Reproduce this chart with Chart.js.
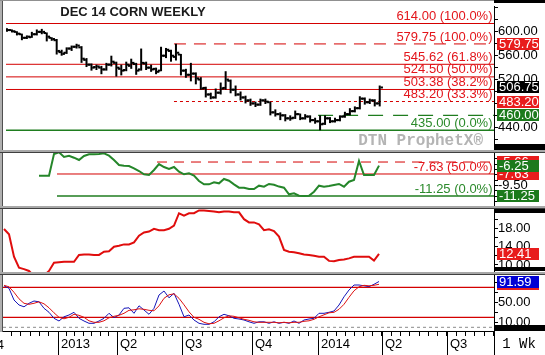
<!DOCTYPE html>
<html>
<head>
<meta charset="utf-8">
<title>DEC 14 CORN WEEKLY</title>
<script src="https://cdn.jsdelivr.net/npm/chart.js@4.4.1/dist/chart.umd.min.js"></script>
<style>
  html, body { margin:0; padding:0; background:#fff; }
  #wrap { position:relative; width:545px; height:355px; overflow:hidden; background:#fff; }
  #wrap canvas { position:absolute; left:0; }
  .d { position:absolute; }
</style>
</head>
<body>
<div id="wrap">
  <canvas id="c1" width="545" height="151" style="top:0px"></canvas>
  <canvas id="c2" width="545" height="54" style="top:153px"></canvas>
  <canvas id="c3" width="545" height="64" style="top:209px"></canvas>
  <canvas id="c4" width="545" height="80" style="top:275px"></canvas>

  <div class="d" style="left:0;top:0;width:2px;height:332px;background:#b0b0b0"></div>
  <div class="d" style="left:2px;top:0;width:1px;height:332px;background:#505050"></div>
  <div class="d" style="left:0;top:0;width:494px;height:1px;background:#909090"></div>
  <div class="d" style="left:494px;top:0;width:51px;height:3px;background:#000"></div>
  <div class="d" style="left:494px;top:144px;width:51px;height:6px;background:#000"></div>
  <div class="d" style="left:494px;top:209px;width:51px;height:4px;background:#000"></div>
  <div class="d" style="left:494px;top:267px;width:51px;height:4px;background:#000"></div>
  <div class="d" style="left:494px;top:325px;width:51px;height:6px;background:#000"></div>
  <div class="d" style="left:0;top:150px;width:545px;height:2px;background:#a8a8a8"></div>
  <div class="d" style="left:0;top:152px;width:545px;height:1px;background:#404040"></div>
  <div class="d" style="left:0;top:206px;width:545px;height:2px;background:#a8a8a8"></div>
  <div class="d" style="left:0;top:208px;width:545px;height:1px;background:#404040"></div>
  <div class="d" style="left:0;top:272px;width:545px;height:2px;background:#a8a8a8"></div>
  <div class="d" style="left:0;top:274px;width:545px;height:1px;background:#404040"></div>
</div>
<script>
// ---------------- DATA ----------------
const TITLE = 'DEC 14 CORN WEEKLY';

// weekly OHLC, Dec 2014 corn (index = week number)
const opens  = [605,603,600,596,590,591,596,600,598,590, 586,566,565,572,575,574,553,545,541,540,
                537,545,548,538,536,543,546,537,547,540, 538,535,560,568,558,562,535,528,530,520,
                506,495,490,498,506,518,503,495,490,485, 480,478,485,482,465,462,460,455,456,462,
                455,458,452,450,446,455,450,452,458,462, 467,472,488,482,485,480];
const highs  = [606,604,601,597,594,600,604,605,599,591, 588,570,574,577,580,576,556,547,545,543,
                548,560,550,545,550,555,548,572,550,545, 540,575,573,570,580,563,538,548,532,524,
                508,498,505,515,534,520,510,500,493,488, 483,488,488,483,470,465,462,460,468,463,
                462,460,456,460,460,457,456,460,466,472, 475,492,490,488,487,510];
const lows   = [600,599,594,586,588,590,594,596,584,585, 562,560,563,568,572,548,541,535,536,529,
                535,542,525,527,534,538,528,535,536,533, 529,534,556,550,552,527,523,517,512,503,
                490,487,488,495,503,497,492,485,480,476, 474,476,479,460,458,452,450,451,454,452,
                453,448,446,435,444,447,448,450,456,460, 465,470,478,479,475,475];
const closes = [603,601,597,590,592,596,600,600,592,588, 568,563,572,575,577,555,545,540,542,537,
                545,550,540,535,545,548,535,548,540,537, 533,560,570,560,565,535,528,530,522,505,
                495,490,498,505,520,503,495,490,485,480, 478,485,483,465,462,460,455,455,462,455,
                458,452,450,445,455,450,452,458,462,467, 472,488,482,485,480,506.75];

// retracement levels (price panel)
const fibLevels = [614.00, 579.75, 545.62, 524.50, 503.38, 483.20, 435.00];
const fibPcts   = ['100.0%', '100.0%', '61.8%', '50.0%', '38.2%', '33.3%', '0.0%'];
const fibFrom   = [-0.2, 33.6, -0.2, -0.2, -0.2, 33.6, -0.2];   // week where each level starts
const supportLevel = 460.00, supportFrom = 62.6;
const lastPrice = 506.75;

// spread panel (green line)
const spread = [null,null,null,null,null,null,null,
  -7.9,-7.9,-7.9,-4.34,-4.05,-4.83,-4.62,-4.95,-5.33,-4.67,-4.39,-4.39,-4.34,-4.23,-4.62,-5.33,
  -6.15,-6.27,-6.31,-6.7,-7.14,-7.68,-7.79,-6.97,-5.99,-6.48,-6.81,-6.48,-7.25,-7.68,-7.52,-7.9,
  -8.78,-9.33,-9.33,-9.0,-9.16,-8.45,-8.73,-9.33,-9.88,-9.88,-10.1,-10.1,-9.55,-9.72,-9.27,-9.4,
  -9.7,-9.88,-10.97,-10.8,-11.2,-11.25,-11.2,-10.54,-9.55,-9.72,-9.6,-9.44,-9.27,-9.72,-8.9,-8.62,
  -5.49,-7.79,-7.79,-7.79,-6.25];
const spreadLevels = [-5.66, -7.63, -11.25];
const spreadPcts   = [null, '50.0%', '0.0%'];
const spreadFrom   = [30.6, 10.6, 10.6];

// volatility panel (red line)
const vol = [17.86,16.7,11.8,9.4,9.1,8.7,7.6,7.2,7.7,8.7, 10.5,10.6,10.7,10.7,10.7,12.2,12.3,12.3,12.2,12.2,
             12.9,13.0,14.0,14.2,14.5,14.5,14.95,16.4,17.1,17.3, 17.9,17.6,17.6,17.9,18.6,21.3,20.8,21.3,21.3,21.9,
             21.9,21.8,21.7,21.5,21.7,21.7,21.5,21.5,20.0,19.3, 19.3,18.9,17.6,17.8,17.4,16.2,13.3,12.9,12.8,12.55,
             12.3,12.2,12.0,11.8,11.8,10.9,10.8,11.1,11.2,11.45, 11.8,11.8,11.8,11.8,10.95,12.41];

// stochastics panel
const stochK = [83,78,54.6,44.6,41,48,52.6,51,38,30, 18,12.6,21,24.6,30,18,12.6,8,8,12.6,
                18,28,19.3,24.6,38,39,28,43,34.6,26, 38,64.6,72.6,59,68,46,21,24.6,14.6,8,
                6,6,11,21,26,23,18,16.6,14.6,11, 8,11,11,8,11,8,10,8,12.6,8,
                14.6,16.6,18,28,28,30,32.6,44.6,61,74.6, 84.6,84.6,83,81.3,86,91.59];
const stochD = [84,81,70,57,48,46,48,51,47,39, 29,20,17,20,26,24,20,13,10,10,
                13,19,22,24,28,34,35,37,36,34, 33,43,58,65,67,58,45,31,20,16,
                10,7,8,13,19,23,22,19,16,14, 11,10,10,10,10,9,10,9,10,10,
                12,13,16,21,25,29,30,36,46,60, 73,81,84,83,84,86];
const stochLevels = [80, 20, 0];

// x axis (week positions of quarter starts) and labels
const firstQuarterPos = -2.2;           // Q4 2012 (just off the left edge)
const xTickPos    = [10.8, 22.6, 35.6, 49.6, 62.8, 75.6, 88.6];
const xTickLabels = ['2013', 'Q2', 'Q3', 'Q4', '2014', 'Q2', 'Q3'];

// right-axis tick values / labelled values
const priceTicks = [420,440,460,480,500,520,540,560,580,600,620,640];
const priceTickLabels = [440,480,520,560,600];
const spreadTicks = [-5.125,-6.0,-6.875,-7.75,-8.625,-9.5,-10.375,-11.25,-12.125];
const spreadTickLabels = [-6.0,-7.75,-9.5,-11.25];
const volTicks = [10,12,14,16,18,20,22];
const volTickLabels = [10,14,18];
const stochTicks = [10,30,50,70,90];
const stochTickLabels = [10,50,90];

// ---------------- STYLE ----------------
const FONT = "'Liberation Sans', Arial, sans-serif";
const RED_TXT = '#e3151b', RED_LINE = '#d40000', RED_BOX = '#e81c1c';
const GREEN_LINE = '#1f7d1f', GREEN_TXT = '#2b8a2b', GREEN_BOX = '#1c7a1c';
const BLUE_BOX = '#0000d4';
const X_MIN = -0.2, X_MAX = 98.0;
Chart.defaults.font.family = FONT;

const idx = closes.map((_, i) => i);

function xHidden() {
  return { type:'linear', min:X_MIN, max:X_MAX, display:false, offset:false, bounds:'data' };
}
function yAxis(min, max, tickVals, labelVals) {
  return {
    position:'right', min, max, bounds:'data',
    afterFit: s => { s.width = 51; s.paddingTop = 0; s.paddingBottom = 0; },
    afterBuildTicks: s => { s.ticks = tickVals.map(v => ({ value: v })); },
    border: { display:true, color:'#000', width:1 },
    grid: { drawOnChartArea:false, drawTicks:true, tickLength:4, color:'#000', lineWidth:1 },
    ticks: { autoSkip:false, padding:0, color:'#000', font:{ family:FONT, size:13 },
      callback: v => labelVals.some(l => Math.abs(l - v) < 1e-9) ? Number(v).toFixed(2) : '' }
  };
}
function levelLine(from, v, color, dash, width) {
  return { type:'line', data:[{ x:from, y:v }, { x:X_MAX, y:v }], borderColor:color,
           borderWidth: width || 1, borderDash: dash || [], pointRadius:0, order:5, tension:0 };
}
function drawBox(ctx, py, color, text) {
  const top = Math.round(py) - 6;
  ctx.fillStyle = color;
  ctx.fillRect(497, top, 42, 12);
  ctx.fillStyle = '#fff';
  ctx.font = `13px ${FONT}`;
  ctx.textAlign = 'left';
  ctx.textBaseline = 'middle';
  ctx.fillText(text, 499, top + 6.5);
}
const baseOpts = (padding) => ({
  responsive:false, animation:false, devicePixelRatio:1, events:[],
  layout:{ padding },
  plugins:{ legend:{ display:false }, tooltip:{ enabled:false }, title:{ display:false } }
});

// ---------------- PANEL 1: price ----------------
const fibStyle = [[], [12, 8], [], [], [], [3, 3], []];
const priceDatasets = [
  { type:'bar', data: idx.map(i => ({ x:i, y:[lows[i], highs[i]] })), backgroundColor:'#000',
    borderWidth:0, barThickness:2, inflateAmount:0, order:1 },
  { type:'line', data: idx.map(i => ({ x:i - 0.4, y:opens[i] })), showLine:false, pointStyle:'line',
    pointRadius:1.25, borderColor:'#000', borderWidth:2, order:0 },
  { type:'line', data: idx.map(i => ({ x:i + 0.4, y:closes[i] })), showLine:false, pointStyle:'line',
    pointRadius:1.25, borderColor:'#000', borderWidth:2, order:0 }
];
fibLevels.forEach((v, k) => {
  const green = k === fibLevels.length - 1;
  priceDatasets.push(levelLine(fibFrom[k], v, green ? GREEN_LINE : RED_LINE, fibStyle[k], green ? 1.3 : 1));
});
priceDatasets.push(levelLine(supportFrom, supportLevel, GREEN_LINE, [15, 10], 1.3));

const overlay1 = {
  id:'ov1',
  afterDraw(chart) {
    const { ctx } = chart; const y = chart.scales.y;
    ctx.save();
    ctx.font = `bold 13px ${FONT}`; ctx.fillStyle = '#1a1a1a';
    ctx.textAlign = 'center'; ctx.textBaseline = 'middle';
    ctx.fillText(TITLE, 133, 12);
    ctx.font = "bold 16px 'Liberation Mono', 'DejaVu Sans Mono', monospace";
    ctx.fillStyle = '#b4b4b4'; ctx.textAlign = 'right';
    ctx.fillText('DTN ProphetX\u00AE', 483, 141);
    ctx.font = `13px ${FONT}`; ctx.textAlign = 'right'; ctx.textBaseline = 'bottom';
    fibLevels.forEach((v, k) => {
      ctx.fillStyle = (k === fibLevels.length - 1) ? GREEN_TXT : RED_TXT;
      ctx.fillText(v.toFixed(2) + ' (' + fibPcts[k] + ')', 492.5, y.getPixelForValue(v) - 0.5);
    });
    drawBox(ctx, y.getPixelForValue(fibLevels[1]), RED_BOX, fibLevels[1].toFixed(2));
    drawBox(ctx, y.getPixelForValue(lastPrice), '#000', lastPrice.toFixed(2));
    drawBox(ctx, y.getPixelForValue(fibLevels[5]), RED_BOX, fibLevels[5].toFixed(2));
    drawBox(ctx, y.getPixelForValue(supportLevel), GREEN_BOX, supportLevel.toFixed(2));
    ctx.restore();
  }
};
new Chart(document.getElementById('c1'), {
  type:'bar',
  data:{ datasets: priceDatasets },
  options: Object.assign(baseOpts({ left:3, top:2, right:0, bottom:1 }), {
    scales:{ x: xHidden(), y: yAxis(410.28, 643.35, priceTicks, priceTickLabels) }
  }),
  plugins:[overlay1]
});

// ---------------- PANEL 2: spread ----------------
const spreadDatasets = [
  { type:'line', data: idx.map(i => ({ x:i, y:spread[i] })), borderColor:'#25862a', borderWidth:2,
    pointRadius:0, tension:0, order:0, spanGaps:false },
  levelLine(spreadFrom[0], spreadLevels[0], RED_LINE, [10, 7]),
  levelLine(spreadFrom[1], spreadLevels[1], RED_LINE),
  levelLine(spreadFrom[2], spreadLevels[2], GREEN_LINE, [], 1.3)
];
const overlay2 = {
  id:'ov2',
  afterDraw(chart) {
    const { ctx } = chart; const y = chart.scales.y;
    ctx.save();
    ctx.font = `13px ${FONT}`; ctx.textAlign = 'right'; ctx.textBaseline = 'bottom';
    ctx.fillStyle = RED_TXT;
    ctx.fillText(spreadLevels[1].toFixed(2) + ' (' + spreadPcts[1] + ')', 492.5, y.getPixelForValue(spreadLevels[1]) - 0.5);
    ctx.fillStyle = GREEN_TXT;
    ctx.fillText(spreadLevels[2].toFixed(2) + ' (' + spreadPcts[2] + ')', 492.5, y.getPixelForValue(spreadLevels[2]) - 0.5);
    const last = spread[spread.length - 1];
    drawBox(ctx, y.getPixelForValue(spreadLevels[0]), RED_BOX, spreadLevels[0].toFixed(2));
    drawBox(ctx, y.getPixelForValue(spreadLevels[1]), RED_BOX, spreadLevels[1].toFixed(2));
    drawBox(ctx, y.getPixelForValue(last), GREEN_BOX, last.toFixed(2));
    drawBox(ctx, y.getPixelForValue(spreadLevels[2]), GREEN_BOX, spreadLevels[2].toFixed(2));
    ctx.restore();
  }
};
new Chart(document.getElementById('c2'), {
  type:'line',
  data:{ datasets: spreadDatasets },
  options: Object.assign(baseOpts({ left:3, top:0, right:0, bottom:0 }), {
    scales:{ x: xHidden(), y: yAxis(-13.058, -4.176, spreadTicks, spreadTickLabels) }
  }),
  plugins:[overlay2]
});

// ---------------- PANEL 3: volatility ----------------
const overlay3 = {
  id:'ov3',
  afterDraw(chart) {
    const { ctx } = chart; const y = chart.scales.y;
    ctx.save();
    const last = vol[vol.length - 1];
    drawBox(ctx, y.getPixelForValue(last), RED_BOX, last.toFixed(2));
    ctx.restore();
  }
};
new Chart(document.getElementById('c3'), {
  type:'line',
  data:{ datasets:[
    { data: idx.map(i => ({ x:i, y:vol[i] })), borderColor:'#e00d0d', borderWidth:2, pointRadius:0, tension:0 }
  ]},
  options: Object.assign(baseOpts({ left:3, top:0, right:0, bottom:0 }), {
    scales:{ x: xHidden(), y: yAxis(8.253, 22.227, volTicks, volTickLabels) }
  }),
  plugins:[overlay3]
});

// ---------------- PANEL 4: stochastics + time axis ----------------
const qBounds = [firstQuarterPos, ...xTickPos, xTickPos[xTickPos.length - 1] + 13];
const allXTicks = [];
for (let k = 0; k < qBounds.length - 1; k++) {
  for (let j = 0; j < 7; j++) {
    const v = qBounds[k] + (qBounds[k + 1] - qBounds[k]) * j / 7;
    if (v >= X_MIN && v <= X_MAX) allXTicks.push(v);
  }
}
const overlay4 = {
  id:'ov4',
  afterDraw(chart) {
    const { ctx, chartArea } = chart; const y = chart.scales.y; const x = chart.scales.x;
    ctx.save();
    ctx.strokeStyle = '#000'; ctx.lineWidth = 1;
    xTickPos.forEach(p => {
      const px = Math.round(x.getPixelForValue(p)) + 0.5;
      ctx.beginPath(); ctx.moveTo(px, chartArea.bottom); ctx.lineTo(px, chart.height); ctx.stroke();
    });
    ctx.font = `13px ${FONT}`; ctx.fillStyle = '#000'; ctx.textAlign = 'right'; ctx.textBaseline = 'middle';
    ctx.fillText('Q4', chartArea.left + 1, chartArea.bottom + 14);
    // "1 Wk" box
    ctx.fillStyle = '#fff'; ctx.fillRect(495, chartArea.bottom, 50, chart.height - chartArea.bottom);
    ctx.beginPath(); ctx.moveTo(494.5, chartArea.bottom); ctx.lineTo(494.5, chart.height); ctx.stroke();
    ctx.fillStyle = '#000'; ctx.textAlign = 'center';
    ctx.font = "14px 'Liberation Mono', 'DejaVu Sans Mono', monospace";
    ctx.fillText('1 Wk', 519, chartArea.bottom + 13);
    drawBox(ctx, y.getPixelForValue(stochD[stochD.length - 1]), RED_BOX, stochD[stochD.length - 1].toFixed(2));
    drawBox(ctx, y.getPixelForValue(stochK[stochK.length - 1]), BLUE_BOX, stochK[stochK.length - 1].toFixed(2));
    ctx.restore();
  }
};
new Chart(document.getElementById('c4'), {
  type:'line',
  data:{ datasets:[
    { data: idx.map(i => ({ x:i, y:stochD[i] })), borderColor:'#dd1111', borderWidth:1, pointRadius:0, tension:0, order:0 },
    { data: idx.map(i => ({ x:i, y:stochK[i] })), borderColor:'#1515b8', borderWidth:1, pointRadius:0, tension:0, order:1 },
    levelLine(X_MIN, stochLevels[0], RED_LINE, [], 1.2),
    levelLine(X_MIN, stochLevels[1], RED_LINE, [], 1.2),
    levelLine(X_MIN, stochLevels[2], '#8a8a8a', [3, 3], 1)
  ]},
  options: Object.assign(baseOpts({ left:3, top:0, right:0, bottom:0 }), {
    scales:{
      x:{ type:'linear', min:X_MIN, max:X_MAX, offset:false, bounds:'data',
        afterBuildTicks: s => { s.ticks = allXTicks.map(v => ({ value:v })); },
        afterFit: s => { s.height = 24; s.paddingLeft = 0; s.paddingRight = 0; },
        border:{ display:true, color:'#000', width:1 },
        grid:{ drawOnChartArea:false, drawTicks:true, tickLength:5, color:'#000', offset:false },
        ticks:{ autoSkip:false, maxRotation:0, minRotation:0, align:'start', labelOffset:3, padding:1,
          color:'#000', font:{ family:FONT, size:13 },
          callback: v => { const k = xTickPos.findIndex(p => Math.abs(p - v) < 1e-6); return k >= 0 ? xTickLabels[k] : ''; } }
      },
      y: yAxis(-7.4, 104.6, stochTicks, stochTickLabels)
    }
  }),
  plugins:[overlay4]
});
</script>
</body>
</html>
